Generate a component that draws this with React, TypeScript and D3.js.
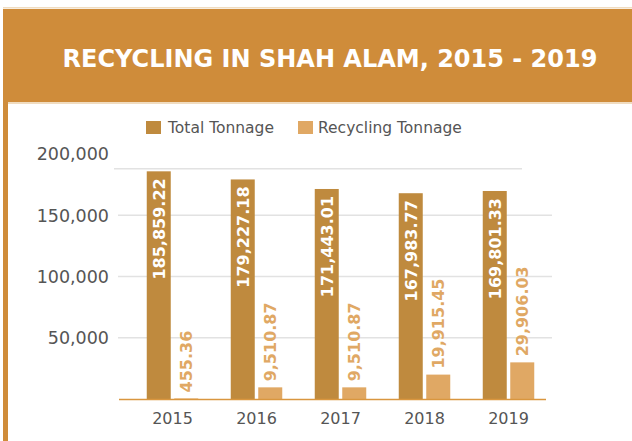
import React from "react";
import * as d3 from "d3";

const years = ["2015", "2016", "2017", "2018", "2019"];
const totalTonnage = [185859.22, 179227.18, 171443.01, 167983.77, 169801.33];
const recyclingTonnage = [455.36, 9510.87, 9510.87, 19915.45, 29906.03];
const yTicks = [50000, 100000, 150000, 200000];
const gridTicks = [50000, 100000, 150000];
const frameTopValue = 188000;
const seriesNames = ["Total Tonnage", "Recycling Tonnage"];

const W = 632;
const H = 441;
const HEADER = "#CF8C3A";
const TOTAL = "#BF8A3E";
const RECYC = "#E0A864";
const TEXT = "#555555";
const FONT = "'DejaVu Sans', sans-serif";

export default function App() {
  const x = d3.scaleBand<string>().domain(years).range([130.5, 550.5]).paddingInner(0).paddingOuter(0);
  const y = d3.scaleLinear().domain([0, 200000]).range([399, 154]);
  const barW = 24;
  const gap = 3.5;
  const fmt = d3.format(",.2f");
  const tickFmt = d3.format(",");

  return (
    <svg width={W} height={H} style={{ position: "absolute", left: 0, top: 0, background: "#fff" }}>
      {/* header */}
      <rect x={3} y={7} width={W - 3} height={1.5} fill="#F0DCC0" />
      <rect x={3} y={9} width={W - 3} height={93} fill={HEADER} />
      <rect x={8} y={102} width={W - 8} height={2} fill="#F0DCC0" />
      <rect x={3} y={9} width={5} height={H - 9} fill={HEADER} />
      <text x={330} y={67} fill="#fff" fontFamily={FONT} fontWeight="bold" fontSize={24}
        textAnchor="middle">
        RECYCLING IN SHAH ALAM, 2015 - 2019
      </text>

      {/* legend */}
      <rect x={146} y={121} width={15} height={13} fill={TOTAL} />
      <text x={168} y={133} fill={TEXT} fontFamily={FONT} fontSize={15.5}>{seriesNames[0]}</text>
      <rect x={298} y={121} width={15} height={13} fill={RECYC} />
      <text x={318} y={133} fill={TEXT} fontFamily={FONT} fontSize={15.5}>{seriesNames[1]}</text>

      {/* grid */}
      <line x1={114} x2={522} y1={y(frameTopValue)} y2={y(frameTopValue)} stroke="#E2E2E2" strokeWidth={1.5} />
      {gridTicks.map((t) => (
        <line key={t} x1={118} x2={552} y1={y(t)} y2={y(t)} stroke="#E2E2E2" strokeWidth={1.5} />
      ))}
      {yTicks.map((t) => (
        <text key={t} x={109} y={y(t)} dy="0.36em" textAnchor="end" fill={TEXT} fontFamily={FONT} fontSize={17.5}>
          {tickFmt(t)}
        </text>
      ))}

      {/* bars */}
      {years.map((yr, i) => {
        const c = (x(yr) as number) + x.bandwidth() / 2;
        const tx = c - gap / 2 - barW;
        const rx = c + gap / 2;
        const tTop = y(totalTonnage[i]);
        const rTop = y(recyclingTonnage[i]);
        return (
          <g key={yr}>
            <rect x={tx} y={tTop} width={barW} height={y(0) - tTop} fill={TOTAL} />
            <rect x={rx} y={rTop} width={barW} height={y(0) - rTop} fill={RECYC} />
            <text transform={`translate(${tx + barW / 2},${tTop + 7}) rotate(-90)`} dy="0.36em"
              textAnchor="end" fill="#fff" fontFamily={FONT} fontWeight="bold" fontSize={16}>
              {fmt(totalTonnage[i])}
            </text>
            <text transform={`translate(${rx + barW / 2},${rTop - 6}) rotate(-90)`} dy="0.36em"
              textAnchor="start" fill={RECYC} fontFamily={FONT} fontWeight="bold" fontSize={16}>
              {fmt(recyclingTonnage[i])}
            </text>
            <text x={c} y={424} textAnchor="middle" fill={TEXT} fontFamily={FONT} fontSize={16}>
              {yr}
            </text>
          </g>
        );
      })}

      {/* axis */}
      <line x1={119} x2={546} y1={y(0) + 0.5} y2={y(0) + 0.5} stroke="#D9963F" strokeWidth={1.5} />
    </svg>
  );
}
